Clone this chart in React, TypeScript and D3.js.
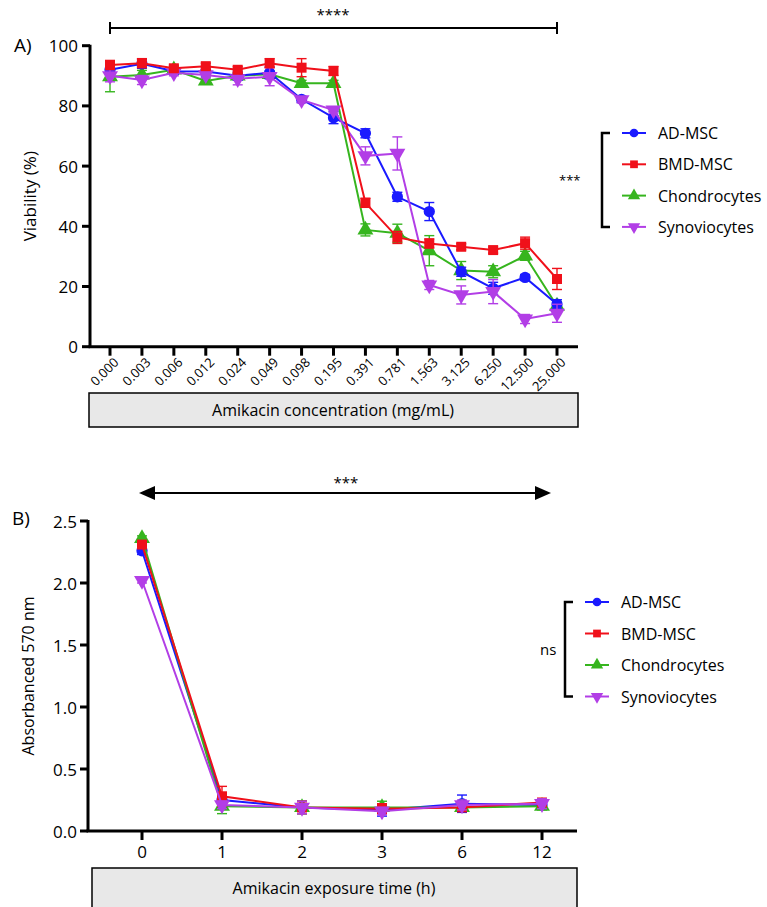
import React from 'react';
import * as d3 from 'd3';

// Panel A: viability vs amikacin concentration
const concLabels = ['0.000', '0.003', '0.006', '0.012', '0.024', '0.049', '0.098', '0.195', '0.391', '0.781', '1.563', '3.125', '6.250', '12.500', '25.000'];
const viabAD = [92, 94, 91.5, 91.4, 90, 91, 82.2, 76.1, 70.9, 49.8, 44.9, 24.9, 19.4, 23.0, 14.1];
const viabAD_err = [1.5, 1.5, 1, 1.5, 1.5, 2, 1, 2, 1.5, 1.5, 3, 1.5, 2, 1, 1.5];
const viabBMD = [93.6, 94.2, 92.5, 93.2, 92, 94.2, 92.7, 91.6, 47.8, 36.3, 34.3, 33.2, 32.1, 34.4, 22.5];
const viabBMD_err = [1.5, 1.5, 1, 1, 1, 1.5, 3, 1.5, 1.5, 2, 1.5, 1, 1, 2, 3.5];
const viabChondro = [89.7, 90.3, 92, 88.3, 90, 90.5, 87.5, 87.5, 38.8, 37.7, 31.9, 25.3, 24.9, 30.2, 13.5];
const viabChondro_err = [5, 1.5, 1, 1, 1, 1, 1, 1, 2, 3, 5, 3, 2, 1.5, 1.5];
const viabSyno = [90, 88.6, 91, 90.3, 89, 89.7, 82, 78.6, 63.4, 64.2, 20.5, 17.2, 18.3, 9.2, 11.1];
const viabSyno_err = [2, 1.5, 1, 1, 2, 3, 1, 1, 3, 5.5, 1.5, 3, 4, 1.5, 3];
const viabTicks = [0, 20, 40, 60, 80, 100];

// Panel B: absorbance vs exposure time
const timeLabels = ['0', '1', '2', '3', '6', '12'];
const absAD = [2.26, 0.25, 0.19, 0.17, 0.22, 0.21];
const absAD_err = [0.03, 0.05, 0.05, 0.05, 0.07, 0.03];
const absBMD = [2.31, 0.28, 0.19, 0.18, 0.19, 0.23];
const absBMD_err = [0.03, 0.08, 0.05, 0.04, 0.03, 0.03];
const absChondro = [2.36, 0.2, 0.19, 0.19, 0.19, 0.2];
const absChondro_err = [0.02, 0.06, 0.05, 0.05, 0.03, 0.03];
const absSyno = [2.02, 0.21, 0.19, 0.16, 0.21, 0.22];
const absSyno_err = [0.02, 0.03, 0.05, 0.03, 0.04, 0.04];
const absTicks = [0, 0.5, 1.0, 1.5, 2.0, 2.5];

const groups = [
  { name: 'AD-MSC', color: '#1a1aff', shape: 'circle' },
  { name: 'BMD-MSC', color: '#f0101a', shape: 'square' },
  { name: 'Chondrocytes', color: '#36b51e', shape: 'triangle' },
  { name: 'Synoviocytes', color: '#b23ee6', shape: 'down' },
];

const FONT = "'Open Sans', 'Noto Sans', sans-serif";

const symbolPath = (shape, size) => {
  if (shape === 'circle') return d3.symbol(d3.symbolCircle, size)();
  if (shape === 'square') return d3.symbol(d3.symbolSquare, size)();
  return d3.symbol(d3.symbolTriangle, size * 1.1)();
};

const Marker = ({ shape, color, x, y, size = 100 }) => (
  <path
    d={symbolPath(shape, size)}
    fill={color}
    transform={`translate(${x},${y})${shape === 'down' ? ' rotate(180)' : ''}`}
  />
);

const Series = ({ labels, values, errs, color, shape, x, y }) => {
  const pts = labels.map((l, i) => [x(l), y(values[i])]);
  const line = d3.line()(pts);
  return (
    <g>
      {labels.map((l, i) => {
        const cx = x(l);
        const y1 = y(values[i] + errs[i]);
        const y2 = y(values[i] - errs[i]);
        return (
          <g key={'e' + i} stroke={color} strokeWidth={1.4}>
            <line x1={cx} x2={cx} y1={y1} y2={y2} />
            <line x1={cx - 5} x2={cx + 5} y1={y1} y2={y1} />
            <line x1={cx - 5} x2={cx + 5} y1={y2} y2={y2} />
          </g>
        );
      })}
      <path d={line} fill="none" stroke={color} strokeWidth={2} />
      {pts.map((p, i) => (
        <Marker key={'m' + i} shape={shape} color={color} x={p[0]} y={p[1]} />
      ))}
    </g>
  );
};

const Legend = ({ x, top, step, label, labelX }) => (
  <g fontFamily={FONT}>
    <path
      d={`M${x + 8},${top} H${x} V${top + step * 3} H${x + 8}`}
      fill="none"
      stroke="#000"
      strokeWidth={2.5}
    />
    <text x={labelX} y={top + step * 1.5} dominantBaseline="central" fontSize={label === 'ns' ? 15 : 13} textAnchor="start">
      {label}
    </text>
    {groups.map((g, i) => (
      <g key={g.name}>
        <line x1={x + 20} x2={x + 44} y1={top + i * step} y2={top + i * step} stroke={g.color} strokeWidth={2} />
        <Marker shape={g.shape} color={g.color} x={x + 32} y={top + i * step} size={60} />
        <text x={x + 56} y={top + i * step} dominantBaseline="central" fontSize={16}>
          {g.name}
        </text>
      </g>
    ))}
  </g>
);

const App = () => {
  // Panel A scales
  const xA = d3.scalePoint().domain(concLabels).range([110, 557]);
  const yA = d3.scaleLinear().domain([0, 100]).range([346.7, 45.7]);
  // Panel B scales
  const xB = d3.scalePoint().domain(timeLabels).range([142, 542]);
  const yB = d3.scaleLinear().domain([0, 2.5]).range([831, 521]);

  const seriesA = [
    { g: groups[2], v: viabChondro, e: viabChondro_err },
    { g: groups[0], v: viabAD, e: viabAD_err },
    { g: groups[3], v: viabSyno, e: viabSyno_err },
    { g: groups[1], v: viabBMD, e: viabBMD_err },
  ];
  const seriesB = [
    { g: groups[0], v: absAD, e: absAD_err },
    { g: groups[2], v: absChondro, e: absChondro_err },
    { g: groups[1], v: absBMD, e: absBMD_err },
    { g: groups[3], v: absSyno, e: absSyno_err },
  ];

  return (
    <svg width={767} height={907} style={{ position: 'absolute', left: 0, top: 0, background: '#fff' }} fontFamily={FONT}>
      <rect width={767} height={907} fill="#fff" />

      {/* ---------- Panel A ---------- */}
      <text x={14} y={52} fontSize={19}>A)</text>
      {/* significance bar */}
      <text x={333} y={20} textAnchor="middle" fontSize={15}>****</text>
      <g stroke="#000" strokeWidth={2}>
        <line x1={xA('0.000')} x2={xA('25.000')} y1={28} y2={28} />
        <line x1={xA('0.000')} x2={xA('0.000')} y1={22} y2={34} />
        <line x1={xA('25.000')} x2={xA('25.000')} y1={22} y2={34} />
      </g>

      {/* y axis */}
      <g>
        <line x1={90} x2={90} y1={yA(100) - 1} y2={yA(0)} stroke="#000" strokeWidth={3} />
        {viabTicks.map(t => (
          <g key={t}>
            <line x1={82} x2={90} y1={yA(t)} y2={yA(t)} stroke="#000" strokeWidth={3} />
            <text x={78} y={yA(t)} textAnchor="end" dominantBaseline="central" fontSize={17}>{t}</text>
          </g>
        ))}
        <text transform={`translate(29,${yA(50)}) rotate(-90)`} textAnchor="middle" dominantBaseline="central" fontSize={17}>
          Viability (%)
        </text>
      </g>
      {/* x axis */}
      <g>
        <line x1={88.5} x2={578} y1={yA(0)} y2={yA(0)} stroke="#000" strokeWidth={3} />
        {concLabels.map(l => (
          <g key={l}>
            <line x1={xA(l)} x2={xA(l)} y1={yA(0)} y2={yA(0) + 9} stroke="#000" strokeWidth={3} />
            <text
              transform={`translate(${xA(l) + 6},${yA(0) + 13}) rotate(-45)`}
              textAnchor="end"
              dominantBaseline="central"
              fontSize={13}
            >
              {l}
            </text>
          </g>
        ))}
      </g>
      <rect x={89} y={393} width={489} height={34} fill="#e8e8e8" stroke="#000" strokeWidth={1.5} />
      <text x={333} y={410} textAnchor="middle" dominantBaseline="central" fontSize={16}>
        Amikacin concentration (mg/mL)
      </text>

      {seriesA.map(s => (
        <Series key={s.g.name} labels={concLabels} values={s.v} errs={s.e} color={s.g.color} shape={s.g.shape} x={xA} y={yA} />
      ))}

      <Legend x={602} top={133} step={31.3} label="***" labelX={559} />

      {/* ---------- Panel B ---------- */}
      <text x={12} y={525} fontSize={19}>B)</text>
      <text x={346} y={488} textAnchor="middle" fontSize={15}>***</text>
      <g>
        <line x1={150} x2={538} y1={493} y2={493} stroke="#000" strokeWidth={2} />
        <path d="M139,493 L155,486 L155,500 Z" fill="#000" />
        <path d="M551,493 L535,486 L535,500 Z" fill="#000" />
      </g>

      <g>
        <line x1={88} x2={88} y1={yB(2.5) - 1} y2={yB(0)} stroke="#000" strokeWidth={3} />
        {absTicks.map(t => (
          <g key={t}>
            <line x1={80} x2={88} y1={yB(t)} y2={yB(t)} stroke="#000" strokeWidth={3} />
            <text x={77} y={yB(t)} textAnchor="end" dominantBaseline="central" fontSize={17}>{t.toFixed(1)}</text>
          </g>
        ))}
        <text transform={`translate(28,${yB(1.25)}) rotate(-90)`} textAnchor="middle" dominantBaseline="central" fontSize={16}>
          Absorbanced 570 nm
        </text>
      </g>
      <g>
        <line x1={86.5} x2={577} y1={yB(0)} y2={yB(0)} stroke="#000" strokeWidth={3} />
        {timeLabels.map(l => (
          <g key={l}>
            <line x1={xB(l)} x2={xB(l)} y1={yB(0)} y2={yB(0) + 9} stroke="#000" strokeWidth={3} />
            <text x={xB(l)} y={yB(0) + 20} textAnchor="middle" dominantBaseline="central" fontSize={17}>{l}</text>
          </g>
        ))}
      </g>
      <rect x={92} y={868} width={485} height={42} fill="#e8e8e8" stroke="#000" strokeWidth={1.5} />
      <text x={334} y={888} textAnchor="middle" dominantBaseline="central" fontSize={16}>
        Amikacin exposure time (h)
      </text>

      {seriesB.map(s => (
        <Series key={s.g.name} labels={timeLabels} values={s.v} errs={s.e} color={s.g.color} shape={s.g.shape} x={xB} y={yB} />
      ))}

      <Legend x={565} top={602} step={31.5} label="ns" labelX={540} />
    </svg>
  );
};

export default App;
